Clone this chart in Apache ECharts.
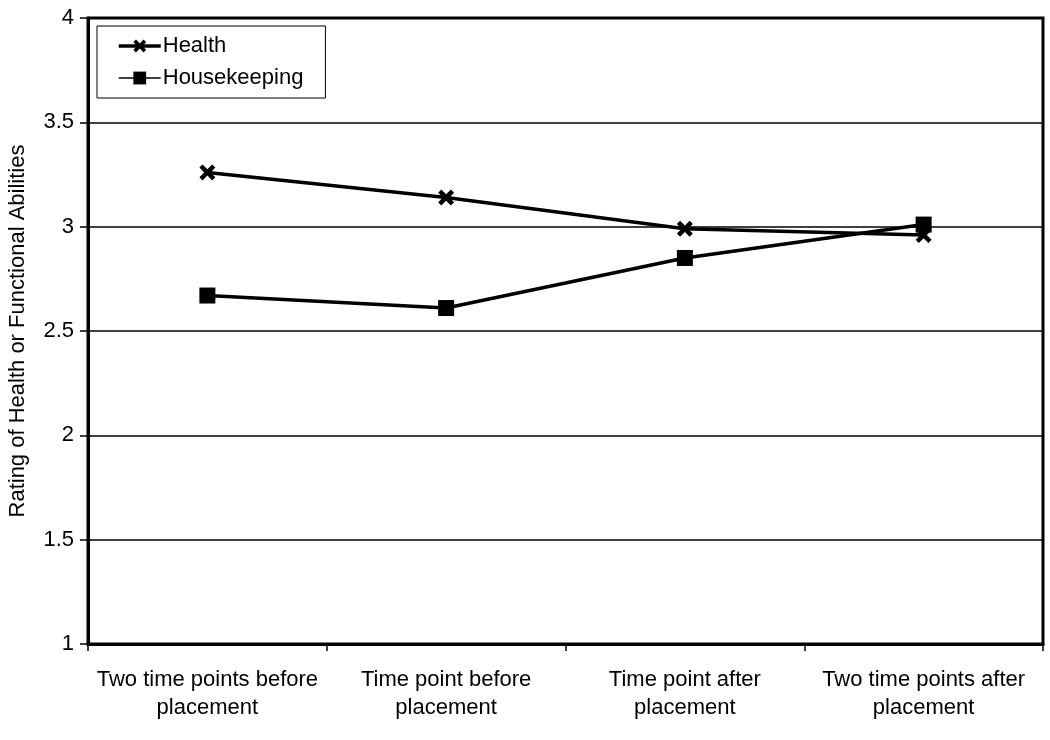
<!DOCTYPE html>
<html>
<head>
<meta charset="utf-8">
<script src="https://cdn.jsdelivr.net/npm/echarts@6/dist/echarts.min.js"></script>
<style>
  html, body { margin: 0; padding: 0; background: #fff; }
  #chart { width: 1050px; height: 740px; }
</style>
</head>
<body>
<div id="chart"></div>
<script>
// time points along the x axis
const categories = [
  'Two time points before\nplacement',
  'Time point before\nplacement',
  'Time point after\nplacement',
  'Two time points after\nplacement'
]
const health = [3.26, 3.14, 2.99, 2.96]
const housekeeping = [2.67, 2.61, 2.85, 3.01]

// filled X shape, so the marker reads like a bold cross
const crossPath = 'path://M0,2L2,0L5,3L8,0L10,2L7,5L10,8L8,10L5,7L2,10L0,8L3,5Z'

const font = 'Liberation Sans, Arial, sans-serif'

const chart = echarts.init(document.getElementById('chart'))
chart.setOption({
  animation: false,
  backgroundColor: '#fff',
  textStyle: { fontFamily: font, color: '#000' },
  grid: {
    left: 88,
    right: 7,
    top: 18,
    bottom: 96,
    outerBoundsMode: 'none',
    show: true,
    borderColor: '#000',
    borderWidth: 3
  },
  legend: {
    left: 97,
    top: 26,
    orient: 'vertical',
    backgroundColor: '#fff',
    borderColor: '#000',
    borderWidth: 1,
    padding: [9, 22, 9, 20],
    itemGap: 10,
    itemWidth: 42,
    itemHeight: 16,
    textStyle: { fontFamily: font, fontSize: 22, color: '#000', padding: [0, 0, 0, -3] },
    data: [
      { name: 'Health', lineStyle: { width: 3.5 } },
      { name: 'Housekeeping', lineStyle: { width: 1.5 } }
    ]
  },
  xAxis: {
    type: 'category',
    data: categories,
    boundaryGap: true,
    axisLine: { lineStyle: { color: '#000', width: 3 } },
    axisTick: { show: true, interval: 0, length: 7, lineStyle: { color: '#000', width: 1.5 } },
    axisLabel: { interval: 0, fontFamily: font, fontSize: 22, color: '#000', margin: 22, lineHeight: 28 }
  },
  yAxis: {
    type: 'value',
    min: 1,
    max: 4,
    interval: 0.5,
    name: 'Rating of Health or Functional Abilities',
    nameLocation: 'middle',
    nameGap: 59,
    nameTextStyle: { fontFamily: font, fontSize: 22, color: '#000' },
    axisLine: { show: true, lineStyle: { color: '#000', width: 3 } },
    axisTick: { show: true, length: 8, lineStyle: { color: '#000', width: 1.5 } },
    axisLabel: { fontFamily: font, fontSize: 22, color: '#000', margin: 14 },
    splitLine: { show: true, lineStyle: { color: '#000', width: 1.5 } }
  },
  series: [
    {
      name: 'Health',
      type: 'line',
      data: health,
      symbol: crossPath,
      symbolSize: 16,
      lineStyle: { color: '#000', width: 3.5 },
      itemStyle: { color: '#000' }
    },
    {
      name: 'Housekeeping',
      type: 'line',
      data: housekeeping,
      symbol: 'rect',
      symbolSize: 16,
      lineStyle: { color: '#000', width: 3.5 },
      itemStyle: { color: '#000' }
    }
  ]
})
</script>
</body>
</html>
